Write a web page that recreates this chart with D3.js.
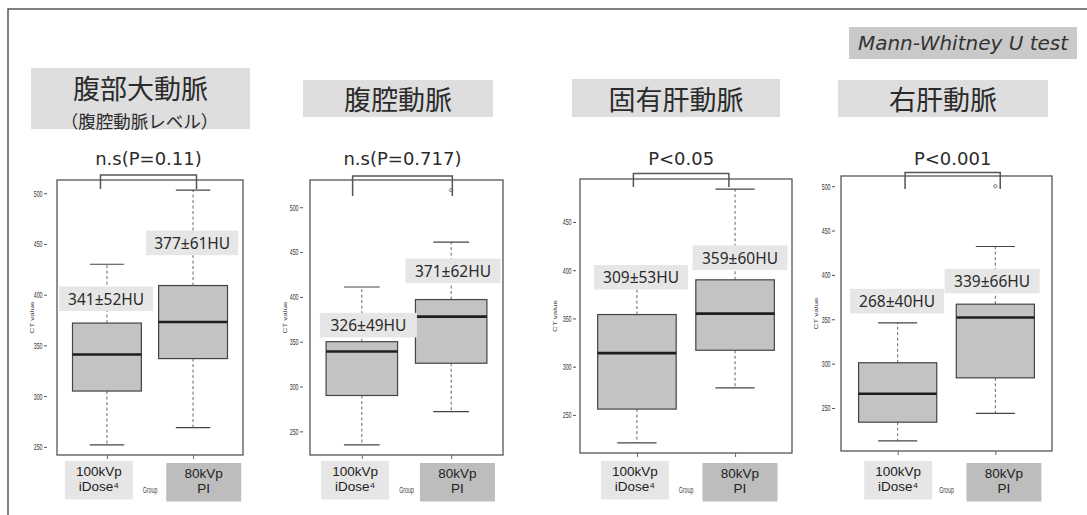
<!DOCTYPE html>
<html>
<head>
<meta charset="utf-8">
<script src="https://cdn.jsdelivr.net/npm/d3@7"></script>
<style>
  html, body { margin: 0; padding: 0; background: #fff; }
  svg { display: block; }
</style>
</head>
<body>
<svg id="chart" width="1087" height="515"></svg>
<script>
// ---- data ---------------------------------------------------------------
const vessels = ["腹部大動脈", "腹腔動脈", "固有肝動脈", "右肝動脈"];
const vesselNotes = ["（腹腔動脈レベル）", "", "", ""];
const groupTop = ["100kVp", "80kVp"];
const groupBottom = ["iDose⁴", "PI"];
// five-number summaries: lower whisker, Q1, median, Q3, upper whisker (HU)
const iDoseStats = [
  [252, 305, 341, 372, 430],
  [235, 290, 339, 350, 411],
  [221, 256, 314, 354, 395],
  [213, 234, 266, 301, 346]
];
const piStats = [
  [269, 337, 373, 409, 503],
  [272, 326, 378, 397, 461],
  [278, 317, 355, 390, 484],
  [244, 284, 352, 367, 432]
];
const piOutliers = [[], [519], [], [500]];
const iDoseMean = [341, 326, 309, 268];
const iDoseSD = [52, 49, 53, 40];
const piMean = [377, 371, 359, 339];
const piSD = [61, 62, 60, 66];
const pValueLabels = ["n.s(P=0.11)", "n.s(P=0.717)", "P<0.05", "P<0.001"];
const yTickValues = [
  [250, 300, 350, 400, 450, 500],
  [250, 300, 350, 400, 450, 500],
  [250, 300, 350, 400, 450],
  [250, 300, 350, 400, 450, 500]
];
const testName = "Mann-Whitney U test";

// ---- layout -------------------------------------------------------------
const layout = [
  { left: 57, right: 243, top: 180, bottom: 455, tickGap: 10,
    title: [31, 250, 68, 129], titleY: 87.5, noteY: 120.5,
    pY: 158, bracket: [0.925, 2.04, 175, 189],
    labelX: [0.99, 1.99], labelY: [396, 451], labelW: [94, 92],
    catX: [0.906, 2.124] },
  { left: 310, right: 503, top: 180, bottom: 455, tickGap: 7,
    title: [303, 493, 80, 117], titleY: 98,
    pY: 158, bracket: [0.897, 2.013, 176, 196],
    labelX: [1.074, 2.02], labelY: [368.5, 429], labelW: [97, 95],
    catX: [0.925, 2.07] },
  { left: 580, right: 792, top: 179, bottom: 453, tickGap: 4,
    title: [572, 780, 79, 117], titleY: 98,
    pY: 158, bracket: [0.964, 1.937, 173.5, 187],
    labelX: [1.042, 2.05], labelY: [392.6, 413], labelW: [94, 95],
    catX: [0.98, 2.05] },
  { left: 841, right: 1052, top: 176, bottom: 451, tickGap: 6,
    title: [838, 1048, 80, 117], titleY: 98,
    pY: 158, bracket: [1.076, 2.05, 172.5, 189],
    labelX: [0.994, 1.967], labelY: [370.5, 393], labelW: [94, 95],
    catX: [1.006, 2.088] }
];

const JP = "'Noto Sans CJK JP', 'Noto Sans', sans-serif";
const LATIN = "'Noto Sans', 'Open Sans', sans-serif";
const WIDE = "'DejaVu Sans', 'Noto Sans', sans-serif";
const SMALL = "'Liberation Sans', Arial, sans-serif";
const svg = d3.select("#chart");

// outer frame (top and left edges)
svg.append("path")
  .attr("d", "M8,515V9H1087")
  .attr("fill", "none").attr("stroke", "#555").attr("stroke-width", 1.5);

// test name tag
const tag = svg.append("g");
tag.append("rect").attr("x", 849).attr("y", 27).attr("width", 228).attr("height", 32)
  .attr("fill", "#c9c9c9");
tag.append("text").attr("x", 963).attr("y", 43).attr("dy", "0.36em")
  .attr("text-anchor", "middle").attr("font-family", WIDE)
  .attr("font-style", "italic").attr("font-size", 20).attr("fill", "#333")
  .text(testName);

vessels.forEach((name, i) => {
  const L = layout[i];
  const stats = [iDoseStats[i], piStats[i]];
  const values = stats.flat().concat(piOutliers[i]);
  const [lo, hi] = d3.extent(values);
  const pad = (hi - lo) * 0.04;
  const y = d3.scaleLinear().domain([lo - pad, hi + pad]).range([L.bottom, L.top]);
  const x = d3.scaleLinear().domain([0.42, 2.58]).range([L.left, L.right]);
  const g = svg.append("g").attr("class", "panel");

  // title block
  const [tx0, tx1, ty0, ty1] = L.title;
  g.append("rect").attr("x", tx0).attr("y", ty0).attr("width", tx1 - tx0).attr("height", ty1 - ty0)
    .attr("fill", "#dedede");
  g.append("text").attr("x", (tx0 + tx1) / 2).attr("y", L.titleY)
    .attr("dominant-baseline", "central").attr("text-anchor", "middle")
    .attr("font-family", JP).attr("font-size", 27).attr("fill", "#2b2b2b").text(name);
  if (vesselNotes[i]) {
    g.append("text").attr("x", (tx0 + tx1) / 2 - 1).attr("y", L.noteY)
      .attr("dominant-baseline", "central").attr("text-anchor", "middle")
      .attr("font-family", JP).attr("font-size", 17.5).attr("fill", "#2b2b2b").text(vesselNotes[i]);
  }

  // p-value
  g.append("text").attr("x", (x(L.bracket[0]) + x(L.bracket[1])) / 2).attr("y", L.pY)
    .attr("dominant-baseline", "central").attr("text-anchor", "middle")
    .attr("font-family", WIDE).attr("font-size", 18).attr("fill", "#2b2b2b").text(pValueLabels[i]);

  // plot frame
  g.append("rect").attr("x", L.left).attr("y", L.top)
    .attr("width", L.right - L.left).attr("height", L.bottom - L.top)
    .attr("fill", "#fff").attr("stroke", "#555").attr("stroke-width", 1.3);

  // comparison bracket
  g.append("path")
    .attr("d", `M${x(L.bracket[0])},${L.bracket[3]}V${L.bracket[2]}H${x(L.bracket[1])}V${L.bracket[3]}`)
    .attr("fill", "none").attr("stroke", "#555").attr("stroke-width", 1.5);

  // boxes
  stats.forEach((s, j) => {
    const c = j + 1;
    const [wLo, q1, med, q3, wHi] = s;
    const bg = g.append("g");
    bg.append("line").attr("x1", x(c)).attr("x2", x(c)).attr("y1", y(q3)).attr("y2", y(wHi))
      .attr("stroke", "#666").attr("stroke-width", 1).attr("stroke-dasharray", "3,2.5");
    bg.append("line").attr("x1", x(c)).attr("x2", x(c)).attr("y1", y(q1)).attr("y2", y(wLo))
      .attr("stroke", "#666").attr("stroke-width", 1).attr("stroke-dasharray", "3,2.5");
    [wLo, wHi].forEach(v => {
      bg.append("line").attr("x1", x(c - 0.2)).attr("x2", x(c + 0.2)).attr("y1", y(v)).attr("y2", y(v))
        .attr("stroke", "#444").attr("stroke-width", 1.2);
    });
    bg.append("rect").attr("x", x(c - 0.4)).attr("y", y(q3))
      .attr("width", x(c + 0.4) - x(c - 0.4)).attr("height", y(q1) - y(q3))
      .attr("fill", "#c3c3c3").attr("stroke", "#444").attr("stroke-width", 1.2);
    bg.append("line").attr("x1", x(c - 0.4)).attr("x2", x(c + 0.4)).attr("y1", y(med)).attr("y2", y(med))
      .attr("stroke", "#1e1e1e").attr("stroke-width", 2.6);
  });
  piOutliers[i].forEach(v => {
    g.append("circle").attr("cx", x(2)).attr("cy", y(v)).attr("r", 1.6)
      .attr("fill", "none").attr("stroke", "#555").attr("stroke-width", 0.8);
  });

  // mean ± SD tags
  const means = [iDoseMean[i], piMean[i]], sds = [iDoseSD[i], piSD[i]];
  means.forEach((m, j) => {
    const cx = x(L.labelX[j]), cy = y(L.labelY[j]), w = L.labelW[j], h = 24.5;
    g.append("rect").attr("x", cx - w / 2).attr("y", cy - h / 2).attr("width", w).attr("height", h)
      .attr("fill", "#e6e6e6");
    g.append("text").attr("x", cx).attr("y", cy).attr("dominant-baseline", "central")
      .attr("text-anchor", "middle").attr("font-family", LATIN).attr("font-size", 15.5)
      .attr("fill", "#2b2b2b").text(`${m}±${sds[j]}HU`);
  });

  // y axis
  const ay = g.append("g").attr("transform", `translate(${L.left - L.tickGap},0)`)
    .call(d3.axisLeft(y).tickValues(yTickValues[i]).tickSize(3).tickPadding(0));
  ay.select(".domain").remove();
  ay.selectAll(".tick line").attr("stroke", "#555");
  ay.selectAll(".tick text")
    .attr("x", 0).attr("dy", "0.34em")
    .attr("transform", "translate(-4.5,0) scale(0.62,1)")
    .attr("font-family", SMALL).attr("font-size", 8.5).attr("fill", "#333");

  // x axis ticks
  const ax = g.append("g").attr("transform", `translate(0,${L.bottom})`)
    .call(d3.axisBottom(x).tickValues([1, 2]).tickSize(4).tickFormat(""));
  ax.select(".domain").remove();
  ax.selectAll(".tick line").attr("stroke", "#666");

  // axis titles
  const midY = (L.top + L.bottom) / 2;
  g.append("text")
    .attr("transform", `translate(${L.left - 23},${midY}) scale(0.62,1) rotate(-90)`)
    .attr("text-anchor", "middle").attr("font-family", SMALL).attr("font-size", 8)
    .attr("fill", "#444").text("CT value");
  g.append("text")
    .attr("transform", `translate(${(L.left + L.right) / 2},${493}) scale(0.62,1)`)
    .attr("text-anchor", "middle").attr("font-family", SMALL).attr("font-size", 8.5)
    .attr("fill", "#444").text("Group");

  // group name tags (two lines in one text element)
  const catW = [68, 75], catFill = ["#e6e6e6", "#bdbdbd"], catY = [461, 463];
  [0, 1].forEach(j => {
    const cx = x(L.catX[j]);
    g.append("rect").attr("x", cx - catW[j] / 2).attr("y", catY[j]).attr("width", catW[j]).attr("height", 38.5)
      .attr("fill", catFill[j]);
    const t = g.append("text").attr("x", cx).attr("y", catY[j] + 14.5)
      .attr("text-anchor", "middle").attr("font-family", SMALL).attr("font-size", 13.5).attr("fill", "#222");
    t.append("tspan").attr("x", cx).text(groupTop[j]);
    t.append("tspan").attr("x", cx).attr("dy", 15.5).text(groupBottom[j]);
  });
});
</script>
</body>
</html>
